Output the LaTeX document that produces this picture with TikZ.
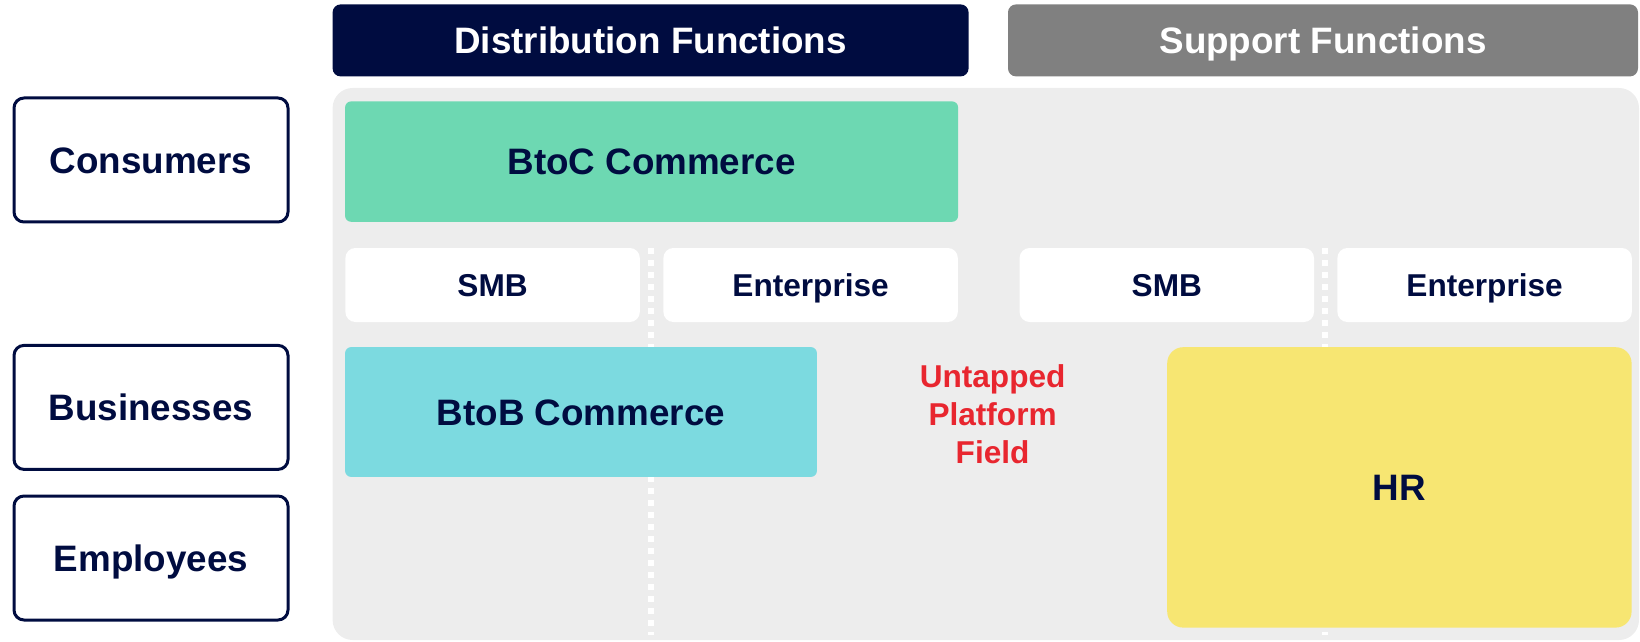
\documentclass[tikz,border=0pt]{standalone}
\usepackage{fontspec}
\setmainfont{Liberation Sans}
\definecolor{navy}{RGB}{0,12,64}
\definecolor{headgray}{RGB}{128,128,128}
\definecolor{bggray}{RGB}{237,237,237}
\definecolor{btocgreen}{RGB}{109,216,178}
\definecolor{btobcyan}{RGB}{124,218,224}
\definecolor{hryellow}{RGB}{247,230,114}
\definecolor{untapred}{RGB}{232,38,47}
\tikzset{
  bigtext/.style={text height=13.2pt, text depth=0pt, font=\fontsize{18.4}{22}\selectfont\bfseries},
  header/.style={bigtext, rounded corners=4pt, inner sep=0pt, text=white},
  rowbox/.style={bigtext, draw=navy, line width=1.5pt, rounded corners=5pt, fill=white, minimum width=137pt, minimum height=62pt, inner sep=0pt, text=navy},
  block/.style={bigtext, rounded corners=3pt, inner sep=0pt, text=navy},
  segbox/.style={fill=white, rounded corners=5pt, minimum width=147.2pt, minimum height=37pt, inner sep=0pt, text=navy, text height=11.3pt, text depth=0pt, font=\fontsize{15.8}{19}\selectfont\bfseries},
  divider/.style={white, line width=3pt, dash pattern=on 3pt off 3pt},
}
\begin{document}
\begin{tikzpicture}[x=1pt,y=-1pt]
\useasboundingbox (0,0) rectangle (820,321);

% column headers
\node (dist) at (325.3,20.2) [header, fill=navy, minimum width=318pt, minimum height=36pt] {Distribution Functions};
\node (supp) at (661.5,20.2) [header, fill=headgray, minimum width=315pt, minimum height=36pt] {Support Functions};

% field
\fill [bggray, rounded corners=10pt] (166.3,44) rectangle (819.5,320);

% row labels
\node (cons) at (75.5,80) [rowbox] {Consumers};
\node (bus) at (75.5,203.7) [rowbox] {Businesses};
\node (emp) at (75.5,279) [rowbox] {Employees};

% dividers
\coordinate (dl top) at (325.3,124);
\coordinate (dl bot) at (325.3,317.5);
\coordinate (dr top) at (662.5,124);
\coordinate (dr bot) at (662.5,317.5);
\draw [divider] (dl top) -- (dl bot);
\draw [divider] (dr top) -- (dr bot);

% segments
\node (smbd) at (246.3,142.5) [segbox] {SMB};
\node (entd) at (405.3,142.5) [segbox] {Enterprise};
\node (smbs) at (583.4,142.5) [segbox] {SMB};
\node (ents) at (742.3,142.5) [segbox] {Enterprise};

% platforms
\node (btoc) at (325.8,80.8) [block, fill=btocgreen, minimum width=306.5pt, minimum height=60.2pt] {BtoC Commerce};
\node (btob) at (290.5,206) [block, fill=btobcyan, minimum width=235.9pt, minimum height=64.9pt] {BtoB Commerce};
\node (hr) at (699.7,243.7) [block, rounded corners=8pt, fill=hryellow, minimum width=232.2pt, minimum height=140.2pt] {HR};
\node (untap) at (496.3,207) [align=center, text=untapred, font=\fontsize{15.8}{19.1}\selectfont\bfseries] {Untapped\\Platform\\Field};
\end{tikzpicture}
\end{document}
